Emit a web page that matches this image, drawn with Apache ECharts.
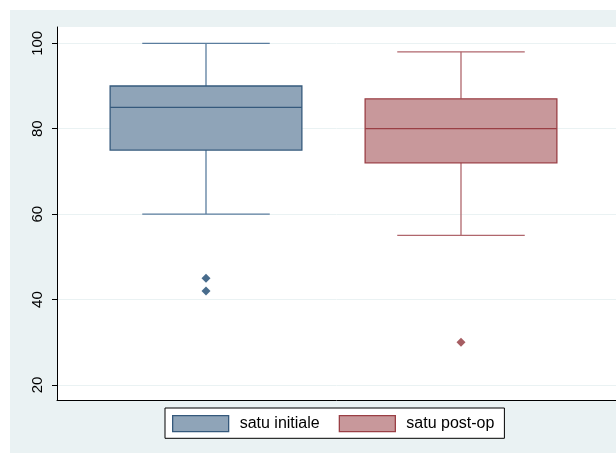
<!DOCTYPE html>
<html>
<head>
<meta charset="utf-8">
<script src="https://cdn.jsdelivr.net/npm/echarts@6/dist/echarts.min.js"></script>
<style>html,body{margin:0;padding:0;background:#fff}#c{width:616px;height:453px}</style>
</head>
<body>
<div id="c"></div>
<script>
// Data
const groups = ['satu initiale', 'satu post-op'];
const groupPos = [1, 2];
// [lower whisker, Q1, median, Q3, upper whisker]
const boxInitiale = [60, 75, 85, 90, 100];
const boxPostop = [55, 72, 80, 87, 98];
const outliersInitiale = [45, 42];
const outliersPostop = [30];
const yTicks = [20, 40, 60, 80, 100];

const fills = ['#8fa4b8', '#c8989b'];
const borders = ['#35597c', '#9a3f45'];
const whiskers = ['#5a7d9e', '#b0666c'];
const dots = ['#1a476f', '#90353b'];

const chart = echarts.init(document.getElementById('c'), null, {renderer: 'canvas'});

function boxRender(idx) {
  return function (params, api) {
    const x = api.value(0);
    const lo = api.value(1), q1 = api.value(2), med = api.value(3), q3 = api.value(4), hi = api.value(5);
    const unit = api.size([1, 0])[0];
    const halfBox = unit * 0.376;
    const halfCap = unit * 0.25;
    const pLo = api.coord([x, lo]), pQ1 = api.coord([x, q1]), pMed = api.coord([x, med]), pQ3 = api.coord([x, q3]), pHi = api.coord([x, hi]);
    const cx = pLo[0];
    const wStyle = {stroke: whiskers[idx], lineWidth: 1.3};
    return {
      type: 'group',
      children: [
        {type: 'line', shape: {x1: cx, y1: pQ3[1], x2: cx, y2: pHi[1]}, style: wStyle},
        {type: 'line', shape: {x1: cx, y1: pQ1[1], x2: cx, y2: pLo[1]}, style: wStyle},
        {type: 'line', shape: {x1: cx - halfCap, y1: pHi[1], x2: cx + halfCap, y2: pHi[1]}, style: wStyle},
        {type: 'line', shape: {x1: cx - halfCap, y1: pLo[1], x2: cx + halfCap, y2: pLo[1]}, style: wStyle},
        {type: 'rect', shape: {x: cx - halfBox, y: pQ3[1], width: halfBox * 2, height: pQ1[1] - pQ3[1]},
          style: {fill: fills[idx], stroke: borders[idx], lineWidth: 1.3}},
        {type: 'line', shape: {x1: cx - halfBox, y1: pMed[1], x2: cx + halfBox, y2: pMed[1]},
          style: {stroke: borders[idx], lineWidth: 1.3}}
      ]
    };
  };
}

const yMinA = 100 - 356.7 / 4.27;
const yMaxA = 100 + 16.3 / 4.27;
const xMin = 1 - 149 / 255;
const xMax = xMin + 559 / 255;

const option = {
  animation: false,
  backgroundColor: '#ffffff',
  graphic: [{
    type: 'rect', left: 10, top: 10, z: -100,
    shape: {width: 606, height: 443},
    style: {fill: '#eaf2f3'}
  }],
  grid: [
    {left: 57, right: 0, top: 27, bottom: 53, show: true, backgroundColor: '#ffffff', borderWidth: 0, z: -1},
    {left: 57, right: 0, top: 43.3, bottom: 68}
  ],
  xAxis: [
    {type: 'value', gridIndex: 0, min: xMin, max: xMax,
      axisLine: {show: true, onZero: false, lineStyle: {color: '#000', width: 1}},
      axisTick: {show: false}, axisLabel: {show: false}, splitLine: {show: false}},
    {type: 'value', gridIndex: 1, show: false, min: 0, max: 1}
  ],
  yAxis: [
    {type: 'value', gridIndex: 0, min: yMinA, max: yMaxA,
      axisLine: {show: true, lineStyle: {color: '#000', width: 1}},
      axisTick: {show: false}, axisLabel: {show: false}, splitLine: {show: false}},
    {type: 'value', gridIndex: 1, min: yTicks[0], max: yTicks[yTicks.length - 1], interval: 20,
      axisLine: {show: false},
      axisTick: {show: true, length: 5, lineStyle: {color: '#000', width: 1}},
      axisLabel: {rotate: 90, margin: 12, fontSize: 15, color: '#000', fontFamily: 'Liberation Sans, Arial, sans-serif'},
      splitLine: {show: true, lineStyle: {color: '#eaf2f3', width: 1}}}
  ],
  legend: {
    left: 165, top: 408,
    orient: 'horizontal',
    backgroundColor: '#ffffff',
    borderColor: '#000', borderWidth: 1, borderRadius: 0,
    padding: [7, 10, 6, 7],
    itemWidth: 56, itemHeight: 16, itemGap: 19,
    selectedMode: false,
    textStyle: {fontSize: 16, color: '#000', fontFamily: 'Liberation Sans, Arial, sans-serif', padding: [0, 0, 0, 6]},
    data: [
      {name: groups[0], icon: 'rect', itemStyle: {color: fills[0], borderColor: borders[0], borderWidth: 1.3}},
      {name: groups[1], icon: 'rect', itemStyle: {color: fills[1], borderColor: borders[1], borderWidth: 1.3}}
    ]
  },
  series: [
    {type: 'custom', name: groups[0], xAxisIndex: 0, yAxisIndex: 0, renderItem: boxRender(0),
      itemStyle: {color: fills[0]}, encode: {x: 0, y: [1, 2, 3, 4, 5]},
      data: [[groupPos[0]].concat(boxInitiale)]},
    {type: 'custom', name: groups[1], xAxisIndex: 0, yAxisIndex: 0, renderItem: boxRender(1),
      itemStyle: {color: fills[1]}, encode: {x: 0, y: [1, 2, 3, 4, 5]},
      data: [[groupPos[1]].concat(boxPostop)]},
    {type: 'scatter', name: groups[0], xAxisIndex: 0, yAxisIndex: 0, symbol: 'diamond', symbolSize: 9,
      itemStyle: {color: dots[0]}, data: outliersInitiale.map(v => [groupPos[0], v])},
    {type: 'scatter', name: groups[1], xAxisIndex: 0, yAxisIndex: 0, symbol: 'diamond', symbolSize: 9,
      itemStyle: {color: dots[1]}, data: outliersPostop.map(v => [groupPos[1], v])}
  ]
};
chart.setOption(option);
</script>
</body>
</html>
